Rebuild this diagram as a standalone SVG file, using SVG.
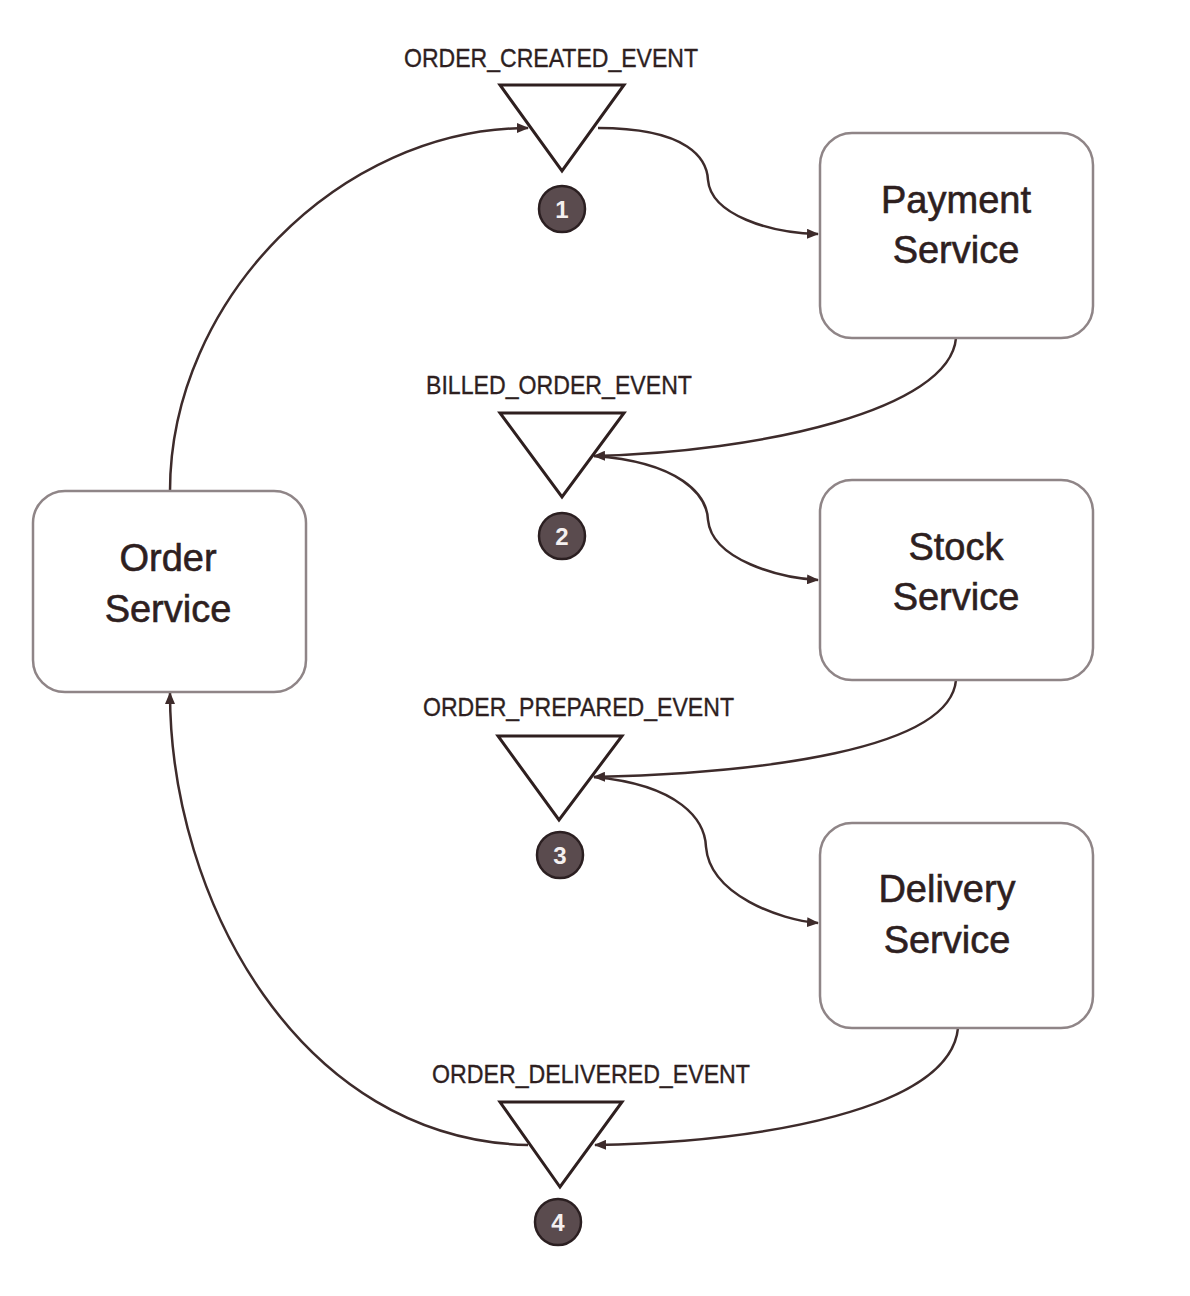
<svg xmlns="http://www.w3.org/2000/svg" width="1190" height="1296" viewBox="0 0 1190 1296">
<defs>
<marker id="arr" viewBox="0 0 12 10" refX="11" refY="5" markerWidth="12" markerHeight="10" markerUnits="userSpaceOnUse" orient="auto">
<path d="M0,0 L12,5 L0,10 z" fill="#3d2b2b"/>
</marker>
<style>
.box{fill:#fff;stroke:#8f8587;stroke-width:2.5}
.svc{font-family:"Liberation Sans",Arial,sans-serif;font-size:38px;fill:#2e1f1f;stroke:#2e1f1f;stroke-width:0.6;text-anchor:middle}
.evt{font-family:"Liberation Sans",Arial,sans-serif;font-size:25px;fill:#2e1f1f;stroke:#2e1f1f;stroke-width:0.35}
.tri{fill:#fff;stroke:#2e1f1f;stroke-width:3;stroke-linejoin:miter}
.num{fill:#5a4b4e;stroke:#2b1f21;stroke-width:2.5}
.numt{font-family:"Liberation Sans",Arial,sans-serif;font-size:24px;font-weight:bold;fill:#f4f0f0;text-anchor:middle}
.con{fill:none;stroke:#3d2b2b;stroke-width:2.5}
</style>
</defs>
<rect width="1190" height="1296" fill="#fff"/>

<g id="connectors">
<path class="con" d="M170,491 C170,300 340,128 528,128" marker-end="url(#arr)"/>
<path class="con" d="M598,128 C690,128 707,160 708,180 C711,215 770,233 818,234" marker-end="url(#arr)"/>
<path class="con" d="M956,338 C950,410 760,452 594,456" marker-end="url(#arr)"/>
<path class="con" d="M594,456 C680,462 707,495 708,520 C712,560 780,578 818,580" marker-end="url(#arr)"/>
<path class="con" d="M956,680 C950,750 760,773 594,777" marker-end="url(#arr)"/>
<path class="con" d="M594,777 C680,785 705,820 706,847 C710,895 780,920 818,923" marker-end="url(#arr)"/>
<path class="con" d="M958,1028 C950,1110 760,1142 595,1145" marker-end="url(#arr)"/>
<path class="con" d="M528,1145 C300,1140 170,900 170,693" marker-end="url(#arr)"/>
</g>

<g id="order-service">
<rect class="box" x="33" y="491" width="273" height="201" rx="32"/>
<text class="svc" x="168" y="571">Order</text>
<text class="svc" x="168" y="622">Service</text>
</g>

<g id="payment-service">
<rect class="box" x="820" y="133" width="273" height="205" rx="32"/>
<text class="svc" x="956" y="213">Payment</text>
<text class="svc" x="956" y="263">Service</text>
</g>

<g id="stock-service">
<rect class="box" x="820" y="480" width="273" height="200" rx="32"/>
<text class="svc" x="956" y="560">Stock</text>
<text class="svc" x="956" y="610">Service</text>
</g>

<g id="delivery-service">
<rect class="box" x="820" y="823" width="273" height="205" rx="32"/>
<text class="svc" x="947" y="902">Delivery</text>
<text class="svc" x="947" y="953">Service</text>
</g>

<g id="event-1">
<text class="evt" x="404" y="67" textLength="294" lengthAdjust="spacingAndGlyphs">ORDER_CREATED_EVENT</text>
<polygon class="tri" points="500,85 624,85 562,171"/>
<circle class="num" cx="562" cy="209" r="23"/>
<text class="numt" x="562" y="218">1</text>
</g>

<g id="event-2">
<text class="evt" x="426" y="394" textLength="266" lengthAdjust="spacingAndGlyphs">BILLED_ORDER_EVENT</text>
<polygon class="tri" points="500,413 624,413 562,497"/>
<circle class="num" cx="562" cy="536" r="23"/>
<text class="numt" x="562" y="545">2</text>
</g>

<g id="event-3">
<text class="evt" x="423" y="716" textLength="311" lengthAdjust="spacingAndGlyphs">ORDER_PREPARED_EVENT</text>
<polygon class="tri" points="498,736 622,736 559,820"/>
<circle class="num" cx="560" cy="855" r="23"/>
<text class="numt" x="560" y="864">3</text>
</g>

<g id="event-4">
<text class="evt" x="432" y="1083" textLength="318" lengthAdjust="spacingAndGlyphs">ORDER_DELIVERED_EVENT</text>
<polygon class="tri" points="500,1102 622,1102 560,1187"/>
<circle class="num" cx="558" cy="1222" r="23"/>
<text class="numt" x="558" y="1231">4</text>
</g>
</svg>
